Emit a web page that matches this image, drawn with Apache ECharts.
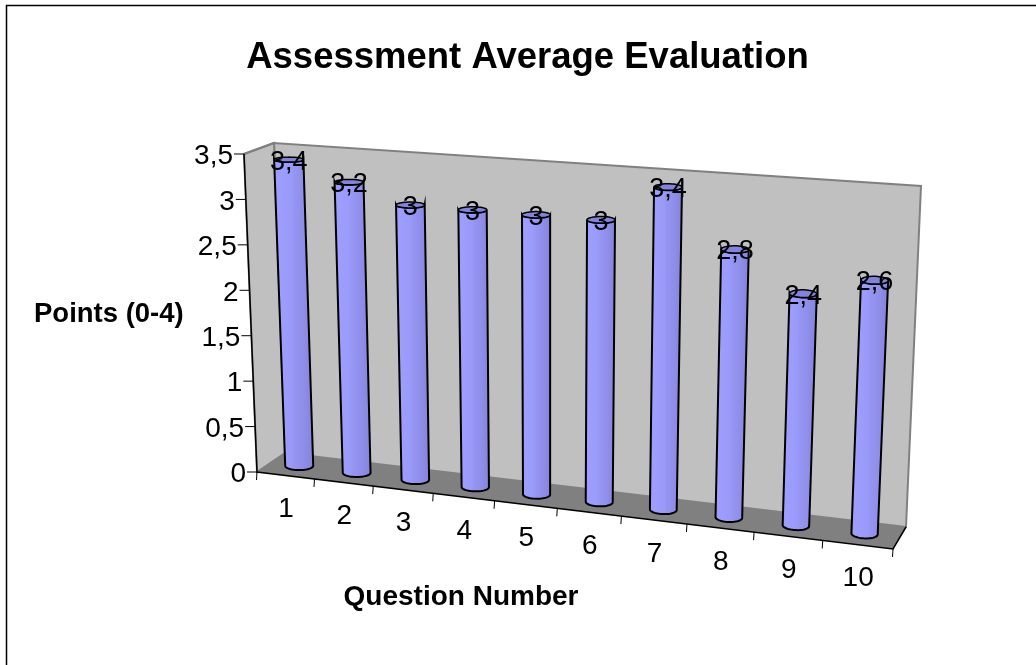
<!DOCTYPE html>
<html>
<head>
<meta charset="utf-8">
<title>Assessment Average Evaluation</title>
<style>
  html, body { margin: 0; padding: 0; background: #fff; }
  #chart { width: 1036px; height: 665px; }
</style>
<script src="https://cdn.jsdelivr.net/npm/echarts@6/dist/echarts.min.js"></script>
</head>
<body>
<div id="chart"></div>
<script>
var categories = ["1", "2", "3", "4", "5", "6", "7", "8", "9", "10"];
var averages = [3.4, 3.2, 3, 3, 3, 3, 3.4, 2.8, 2.4, 2.6];
var yTicks = [0, 0.5, 1, 1.5, 2, 2.5, 3, 3.5];
var yTickLabels = ["0", "0,5", "1", "1,5", "2", "2,5", "3", "3,5"];

var FONT = '"Liberation Sans", Arial, sans-serif';

// corners of the excel 3d box: f/b = front/back, l/r = left/right, 0/1 = floor/top
var box = {
  fl0: [257, 472], fr0: [893, 549], bl0: [285, 453], br0: [906, 527],
  fl1: [244, 154], fr1: [908, 204], bl1: [274, 143], br1: [921, 186],
};
var skew = 1.118; // columns get wider to the right
var barRadius = 0.0205;
var barDepth = 0.2;

function mix(a, b, t) {
  return [a[0] + (b[0] - a[0]) * t, a[1] + (b[1] - a[1]) * t];
}

// t: along the floor, h: height, d: depth
function project(t, h, d) {
  var front = mix(mix(box.fl0, box.fr0, t), mix(box.fl1, box.fr1, t), h);
  var back = mix(mix(box.bl0, box.br0, t), mix(box.bl1, box.br1, t), h);
  return mix(front, back, d);
}

// from the grid's own pixels to box fractions
function toBox(params, pt) {
  var sys = params.coordSys;
  var u = (pt[0] - sys.x) / sys.width;
  return {
    t: u / (u + (1 - u) * skew),
    h: (sys.y + sys.height - pt[1]) / sys.height,
  };
}

function ring(t, h) {
  var pts = [];
  for (var i = 0; i < 48; i++) {
    var a = (i / 48) * Math.PI * 2;
    pts.push(project(t + barRadius * Math.cos(a), h, 0.5 + barDepth * Math.sin(a)));
  }
  return pts;
}

function extremes(pts) {
  var lo = 0, hi = 0;
  pts.forEach(function (p, i) {
    if (p[0] < pts[lo][0]) lo = i;
    if (p[0] > pts[hi][0]) hi = i;
  });
  return [lo, hi];
}

// the front half of a ring, left extreme to right extreme, going via the lower side
function frontHalf(pts) {
  var ex = extremes(pts);
  var out = [];
  var i = ex[0];
  while (true) {
    out.push(pts[i]);
    if (i === ex[1]) break;
    i = (i + 1) % pts.length;
  }
  return out;
}

function renderWalls() {
  var line = { fill: "#c0c0c0", stroke: "#808080", lineWidth: 2 };
  return {
    type: "group",
    children: [
      { type: "polygon", shape: { points: [box.bl0, box.br0, box.br1, box.bl1] }, style: line },
      { type: "polygon", shape: { points: [box.fl0, box.bl0, box.bl1, box.fl1] }, style: line },
      { type: "polygon", shape: { points: [box.fl0, box.fr0, box.br0, box.bl0] }, style: { fill: "#808080" } },
      { type: "polyline", shape: { points: [box.bl1, box.fl1] }, style: { fill: null, stroke: "#808080", lineWidth: 2 } },
      { type: "polyline", shape: { points: [box.fl1, box.fl0, box.fr0, box.br0] }, style: { fill: null, stroke: "#000", lineWidth: 1.5 } },
    ],
  };
}

function renderYAxis(params, api) {
  var b = toBox(params, api.coord([0, api.value(1)]));
  var p = project(0, b.h, 0);
  return {
    type: "group",
    children: [
      { type: "line", shape: { x1: p[0] - 10, y1: p[1], x2: p[0], y2: p[1] }, style: { stroke: "#000", lineWidth: 1 } },
      {
        type: "text",
        style: {
          x: p[0] - 11, y: p[1] + 2.5, text: yTickLabels[params.dataIndex],
          font: "28px " + FONT, fill: "#000", align: "right", verticalAlign: "middle",
        },
      },
    ],
  };
}

function renderXAxis(params, api) {
  var i = api.value(0);
  var c = api.coord([i, 0]);
  var band = api.size([1, 0])[0];
  var mid = toBox(params, c);
  var right = toBox(params, [c[0] + band / 2, c[1]]);
  var left = toBox(params, [c[0] - band / 2, c[1]]);
  var children = [];
  [right, left].forEach(function (b, n) {
    if (n === 1 && i !== 0) return;
    var p = project(b.t, 0, 0);
    children.push({
      type: "line",
      shape: { x1: p[0], y1: p[1], x2: p[0] - 0.5, y2: p[1] + 8 },
      style: { stroke: "#000", lineWidth: 1 },
    });
  });
  var q = project(mid.t, 0, 0);
  children.push({
    type: "text",
    style: {
      x: q[0] + 0.5, y: q[1] + 34, text: categories[i],
      font: "28px " + FONT, fill: "#000", align: "center", verticalAlign: "middle",
    },
  });
  return { type: "group", children: children };
}

function renderBar(params, api) {
  var i = api.value(0);
  var v = api.value(1);
  var top = toBox(params, api.coord([i, v]));
  var bottom = ring(top.t, 0);
  var lid = ring(top.t, top.h);
  var body = frontHalf(bottom).concat(frontHalf(lid).reverse());
  var c = project(top.t, top.h, 0.5);
  return {
    type: "group",
    children: [
      {
        type: "polygon",
        shape: { points: body },
        style: {
          stroke: "#000",
          lineWidth: 2,
          fill: new echarts.graphic.LinearGradient(0, 0, 1, 0, [
            { offset: 0, color: "#9696f6" },
            { offset: 0.12, color: "#9e9eff" },
            { offset: 0.42, color: "#9a9afa" },
            { offset: 0.5, color: "#9696f2" },
            { offset: 0.75, color: "#8e8eea" },
            { offset: 1, color: "#8282d8" },
          ]),
        },
      },
      { type: "polygon", shape: { points: lid }, style: { fill: "#8383de", stroke: "#000", lineWidth: 1.5 } },
      {
        type: "text",
        z2: 10,
        style: {
          x: c[0], y: c[1] + 2.5, text: String(v).replace(".", ","),
          font: "27px " + FONT, fill: "#000", align: "center", verticalAlign: "middle",
        },
      },
    ],
  };
}

var option = {
  animation: false,
  backgroundColor: "#fff",
  title: {
    text: "Assessment Average Evaluation",
    left: 522.5,
    top: 34,
    textAlign: "center",
    textStyle: { fontFamily: FONT, fontSize: 36.5, fontWeight: "bold", color: "#000" },
  },
  grid: { left: 0, right: 0, top: 0, bottom: 0 },
  xAxis: { type: "category", data: categories, show: false },
  yAxis: { type: "value", min: 0, max: 3.5, interval: 0.5, show: false },
  graphic: [
    { type: "rect", shape: { x: 6.5, y: 5.5, width: 1040, height: 670 }, style: { fill: null, stroke: "#000", lineWidth: 1.5 }, silent: true },
    { type: "text", style: { x: 34, y: 314, text: "Points (0-4)", font: "bold 27.5px " + FONT, fill: "#000", verticalAlign: "middle" } },
    { type: "text", style: { x: 461, y: 597, text: "Question Number", font: "bold 28px " + FONT, fill: "#000", align: "center", verticalAlign: "middle" } },
  ],
  series: [
    { type: "custom", clip: false, z: 1, renderItem: renderWalls, data: [[0, 0]], silent: true },
    {
      type: "custom", clip: false, z: 2, renderItem: renderYAxis, silent: true,
      data: yTicks.map(function (t) { return [0, t]; }),
    },
    {
      type: "custom", clip: false, z: 2, renderItem: renderXAxis, silent: true,
      data: categories.map(function (c, i) { return [i, 0]; }),
    },
    {
      type: "custom", clip: false, z: 3, renderItem: renderBar, silent: true,
      data: averages.map(function (v, i) { return [i, v]; }),
    },
  ],
};

var myChart = echarts.init(document.getElementById("chart"));
myChart.setOption(option);
</script>
</body>
</html>
